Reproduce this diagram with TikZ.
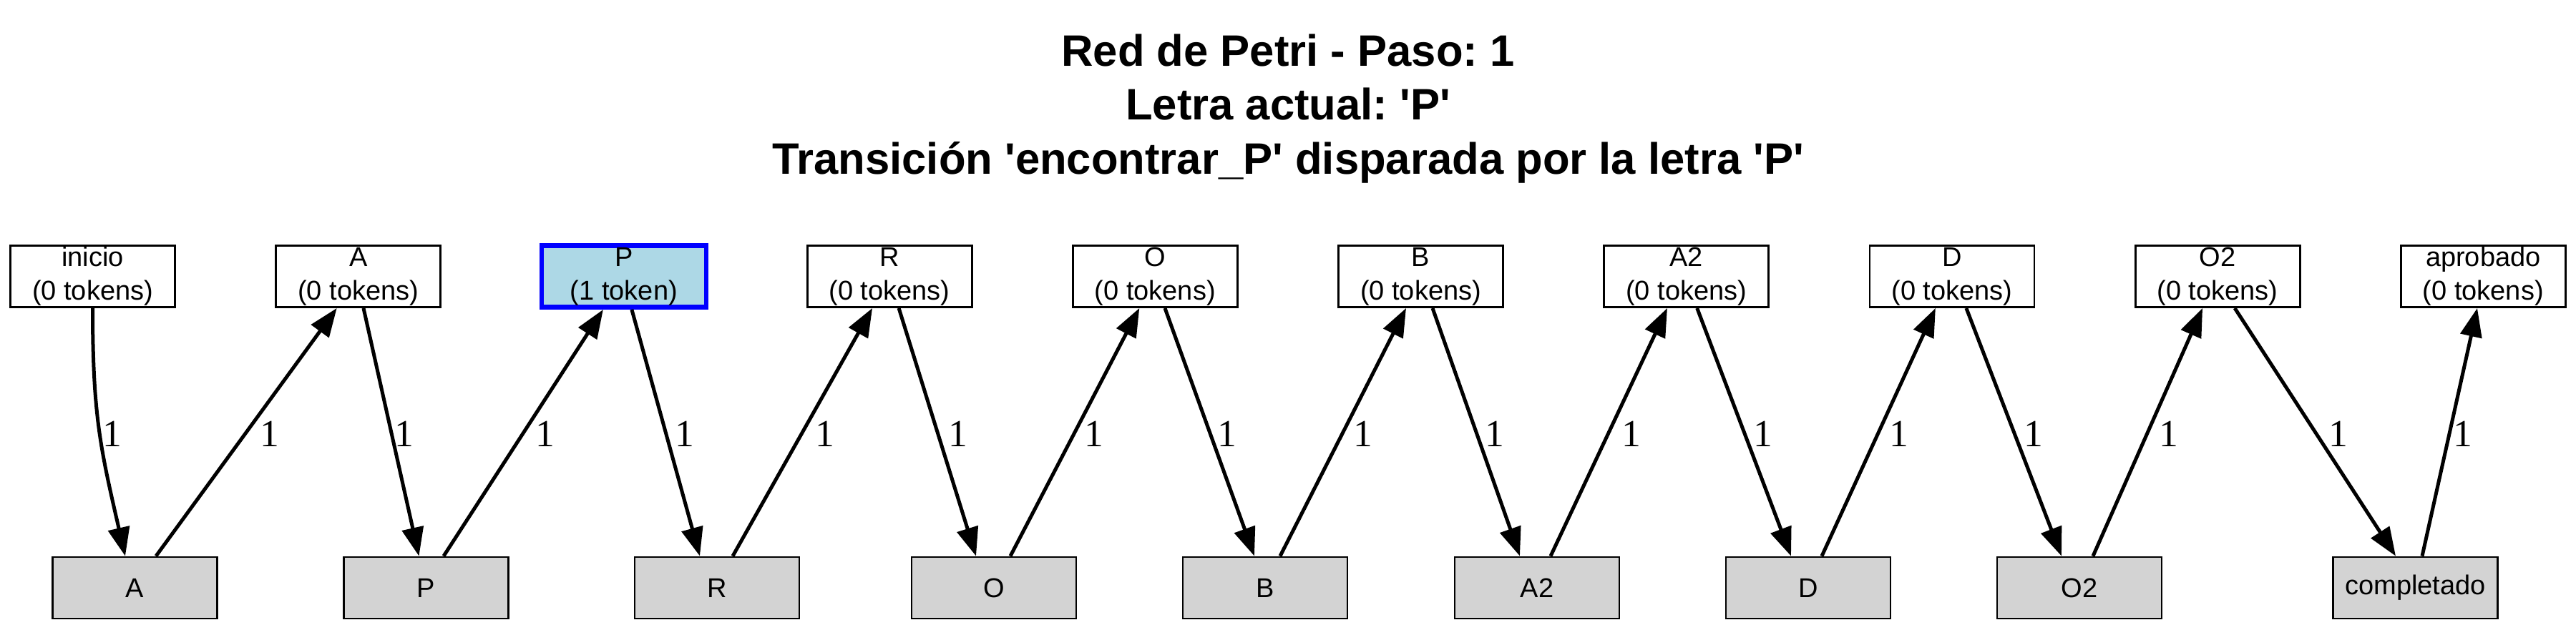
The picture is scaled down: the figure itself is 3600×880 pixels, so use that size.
\documentclass[tikz,border=0pt]{standalone}
\usepackage{fontspec}
\newfontfamily\arialf{Liberation Sans}
\newfontfamily\timesf{Liberation Serif}
\usetikzlibrary{arrows.meta,calc}
\definecolor{lgray}{HTML}{D3D3D3}
\definecolor{lblue}{HTML}{ADD8E6}
\definecolor{pblue}{HTML}{0000FF}
\frenchspacing
\begin{document}
\begin{tikzpicture}[x=0.25pt,y=-0.25pt,
  place/.style={draw=black, line width=0.7pt, minimum width=57.5pt, minimum height=21.5pt, inner sep=0pt, align=center, font=\arialf\fontsize{9.5}{11.7}\selectfont, execute at begin node=\rule{0pt}{8.8pt}},
  active/.style={place, fill=lblue, draw=pblue, line width=1.7pt},
  trans/.style={draw=black, line width=0.7pt, fill=lgray, minimum width=57.5pt, minimum height=21.5pt, inner sep=0pt, font=\arialf\fontsize{9.5}{11.7}\selectfont},
  arc/.style={line width=1.25pt, -{Triangle[length=10pt,width=7.5pt]}},
  wt/.style={font=\timesf\fontsize{13.4}{16}\selectfont, anchor=base, inner sep=0pt},
  ttl/.style={font=\arialf\bfseries\fontsize{15.4}{18.9}\selectfont\frenchspacing, anchor=base, inner sep=0pt}]
\useasboundingbox (0,0) rectangle (3600,880);

% title
\node[ttl] (title1) at (1800,92) {Red de Petri - Paso: 1};
\node[ttl] (title2) at (1800,167.5) {Letra actual: 'P'};
\node[ttl] (title3) at (1800,243) {Transición 'encontrar\_P' disparada por la letra 'P'};

% places
\node[place]  (p0) at (129.5,386.5) {inicio\\(0 tokens)};
\node[place]  (p1) at (500.7,386.5) {A\\(0 tokens)};
\node[active] (p2) at (871.9,386.5) {P\\(1 token)};
\node[place]  (p3) at (1243.1,386.5) {R\\(0 tokens)};
\node[place]  (p4) at (1614.3,386.5) {O\\(0 tokens)};
\node[place]  (p5) at (1985.5,386.5) {B\\(0 tokens)};
\node[place]  (p6) at (2356.7,386.5) {A2\\(0 tokens)};
\node[place]  (p7) at (2727.9,386.5) {D\\(0 tokens)};
\node[place]  (p8) at (3099.1,386.5) {O2\\(0 tokens)};
\node[place]  (p9) at (3470.3,386.5) {aprobado\\(0 tokens)};

% transitions
\node[trans] (t1) at (188.5,822) {A};
\node[trans] (t2) at (595.5,822) {P};
\node[trans] (t3) at (1002,822) {R};
\node[trans] (t4) at (1389,822) {O};
\node[trans] (t5) at (1768,822) {B};
\node[trans] (t6) at (2148,822) {A2};
\node[trans] (t7) at (2527,822) {D};
\node[trans] (t8) at (2906,822) {O2};
\node[trans] (t9) at (3375.5,822) {completado};

% arcs
\draw[arc] (p0.south) .. controls ($(p0.south)+(0,150)$) and ($(t1.north)+(-48,-150)$) .. ($(t1.north)+(-13.5,0)$);
\draw[arc] ($(t1.north)+(29.5,0)$) -- ($(p1.south)+(-30,0)$);
\draw[arc] ($(p1.south)+(7.3,0)$) -- ($(t2.north)+(-10,0)$);
\draw[arc] ($(t2.north)+(24.5,0)$) -- ($(p2.south)+(-29,0)$);
\draw[arc] ($(p2.south)+(11,0)$) -- ($(t3.north)+(-24,0)$);
\draw[arc] ($(t3.north)+(22,0)$) -- ($(p3.south)+(-24,0)$);
\draw[arc] ($(p3.south)+(13,0)$) -- ($(t4.north)+(-25,0)$);
\draw[arc] ($(t4.north)+(23,0)$) -- ($(p4.south)+(-22,0)$);
\draw[arc] ($(p4.south)+(13.7,0)$) -- ($(t5.north)+(-15,0)$);
\draw[arc] ($(t5.north)+(21,0)$) -- ($(p5.south)+(-20.5,0)$);
\draw[arc] ($(p5.south)+(16.5,0)$) -- ($(t6.north)+(-24,0)$);
\draw[arc] ($(t6.north)+(19,0)$) -- ($(p6.south)+(-26.7,0)$);
\draw[arc] ($(p6.south)+(15,0)$) -- ($(t7.north)+(-24,0)$);
\draw[arc] ($(t7.north)+(19,0)$) -- ($(p7.south)+(-23,0)$);
\draw[arc] ($(p7.south)+(20,0)$) -- ($(t8.north)+(-25,0)$);
\draw[arc] ($(t8.north)+(19,0)$) -- ($(p8.south)+(-21,0)$);
\draw[arc] ($(p8.south)+(24,0)$) -- ($(t9.north)+(-27.5,0)$);
\draw[arc] ($(t9.north)+(9.5,0)$) -- ($(p9.south)+(-8.3,0)$);

% weights
\node[wt] (w1)  at (157,624) {1};
\node[wt] (w2)  at (377,624) {1};
\node[wt] (w3)  at (565,624) {1};
\node[wt] (w4)  at (762,624) {1};
\node[wt] (w5)  at (957,624) {1};
\node[wt] (w6)  at (1153,624) {1};
\node[wt] (w7)  at (1339,624) {1};
\node[wt] (w8)  at (1529,624) {1};
\node[wt] (w9)  at (1715,624) {1};
\node[wt] (w10) at (1905,624) {1};
\node[wt] (w11) at (2089,624) {1};
\node[wt] (w12) at (2280,624) {1};
\node[wt] (w13) at (2464,624) {1};
\node[wt] (w14) at (2654,624) {1};
\node[wt] (w15) at (2842,624) {1};
\node[wt] (w16) at (3031,624) {1};
\node[wt] (w17) at (3268,624) {1};
\node[wt] (w18) at (3442,624) {1};
\end{tikzpicture}
\end{document}
